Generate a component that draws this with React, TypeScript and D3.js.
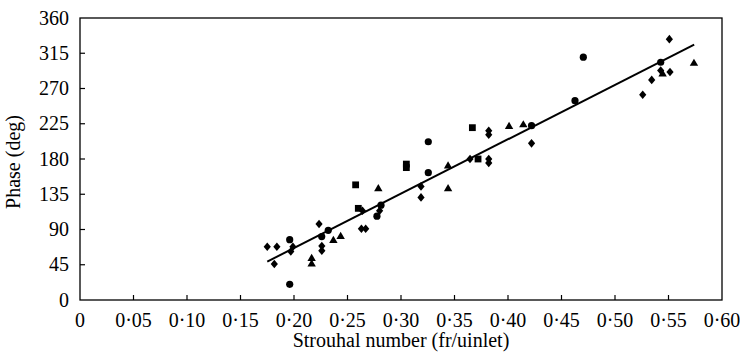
import React from "react";
import * as d3 from "d3";

const xTicks = [0, 0.05, 0.1, 0.15, 0.2, 0.25, 0.3, 0.35, 0.4, 0.45, 0.5, 0.55, 0.6];
const yTicks = [0, 45, 90, 135, 180, 225, 270, 315, 360];

const diamonds: [number, number][] = [
  [0.175, 68], [0.184, 68], [0.1816, 46], [0.199, 68], [0.197, 62],
  [0.2234, 97], [0.226, 69], [0.226, 63], [0.263, 91], [0.267, 91],
  [0.264, 114], [0.28, 114], [0.3187, 145], [0.3187, 131], [0.3645, 180],
  [0.382, 216], [0.382, 211], [0.382, 180], [0.382, 175], [0.422, 200],
  [0.5259, 262], [0.5343, 281], [0.5427, 293], [0.5514, 291], [0.5508, 333],
];
const circles: [number, number][] = [
  [0.196, 77], [0.196, 20], [0.2259, 81], [0.232, 89], [0.2775, 107],
  [0.2813, 121], [0.3255, 202], [0.3255, 162.5], [0.422, 222.5],
  [0.4626, 254.5], [0.4704, 310], [0.5427, 303.5],
];
const triangles: [number, number][] = [
  [0.2165, 54], [0.2165, 47], [0.2368, 77], [0.2436, 82], [0.2788, 143],
  [0.344, 172], [0.344, 143], [0.401, 222.5], [0.4143, 224.5],
  [0.5445, 289.5], [0.5738, 303],
];
const squares: [number, number][] = [
  [0.2576, 147], [0.2601, 117], [0.305, 169], [0.305, 173.5],
  [0.3667, 220], [0.372, 180],
];
const trendX = [0.175, 0.574];
const trendY = [49, 326];

const W = 740, H = 355;
const left = 80, right = 722, top = 18, bottom = 300;
const FONT = "'Liberation Serif', 'Times New Roman', serif";

export default function App() {
  const x = d3.scaleLinear().domain([0, 0.6]).range([left, right]);
  const y = d3.scaleLinear().domain([0, 360]).range([bottom, top]);
  const line = d3.line<number>().x((d) => x(trendX[d])).y((d) => y(trendY[d]));
  const fmt = (v: number) => (v === 0 ? "0" : v.toFixed(2).replace(".", "\u00B7"));
  const sym = (type: d3.SymbolType, size: number) => d3.symbol().type(type).size(size)() as string;
  const diamondPath = "M0,-4.3L3.6,0L0,4.3L-3.6,0Z";
  const trianglePath = "M0,-4L4.2,3.2L-4.2,3.2Z";
  return (
    <svg width={W} height={H} style={{ position: "absolute", left: 0, top: 0, background: "#fff" }} fontFamily={FONT}>
      <rect x={0} y={0} width={W} height={H} fill="#fff" />
      <rect x={left} y={top} width={right - left} height={bottom - top} fill="none" stroke="#000" strokeWidth={1.3} />
      {xTicks.map((t) => (
        <g key={"x" + t}>
          {t > 0 && t < 0.6 && <line x1={x(t)} x2={x(t)} y1={bottom} y2={bottom - 5} stroke="#000" strokeWidth={1.2} />}
          <text x={x(t)} y={326.5} textAnchor="middle" fontSize={20} fill="#000">{fmt(t)}</text>
        </g>
      ))}
      {yTicks.map((t) => (
        <g key={"y" + t}>
          {t > 0 && t < 360 && <line x1={left} x2={left + 5} y1={y(t)} y2={y(t)} stroke="#000" strokeWidth={1.2} />}
          <text x={69} y={y(t) + 6.7} textAnchor="end" fontSize={20} fill="#000">{t}</text>
        </g>
      ))}
      <text x={(left + right) / 2} y={347} textAnchor="middle" fontSize={20} fill="#000">Strouhal number (fr/uinlet)</text>
      <text transform={`translate(20,${(top + bottom) / 2 + 3}) rotate(-90)`} textAnchor="middle" fontSize={20} fill="#000">Phase (deg)</text>
      <path d={line([0, 1]) as string} fill="none" stroke="#000" strokeWidth={2} />
      {diamonds.map((d, i) => (
        <path key={"d" + i} d={diamondPath} transform={`translate(${x(d[0])},${y(d[1])})`} fill="#000" />
      ))}
      {circles.map((d, i) => (
        <circle key={"c" + i} cx={x(d[0])} cy={y(d[1])} r={3.6} fill="#000" />
      ))}
      {triangles.map((d, i) => (
        <path key={"t" + i} d={trianglePath} transform={`translate(${x(d[0])},${y(d[1])})`} fill="#000" />
      ))}
      {squares.map((d, i) => (
        <rect key={"s" + i} x={x(d[0]) - 3.4} y={y(d[1]) - 3.4} width={6.8} height={6.8} fill="#000" />
      ))}
    </svg>
  );
}
